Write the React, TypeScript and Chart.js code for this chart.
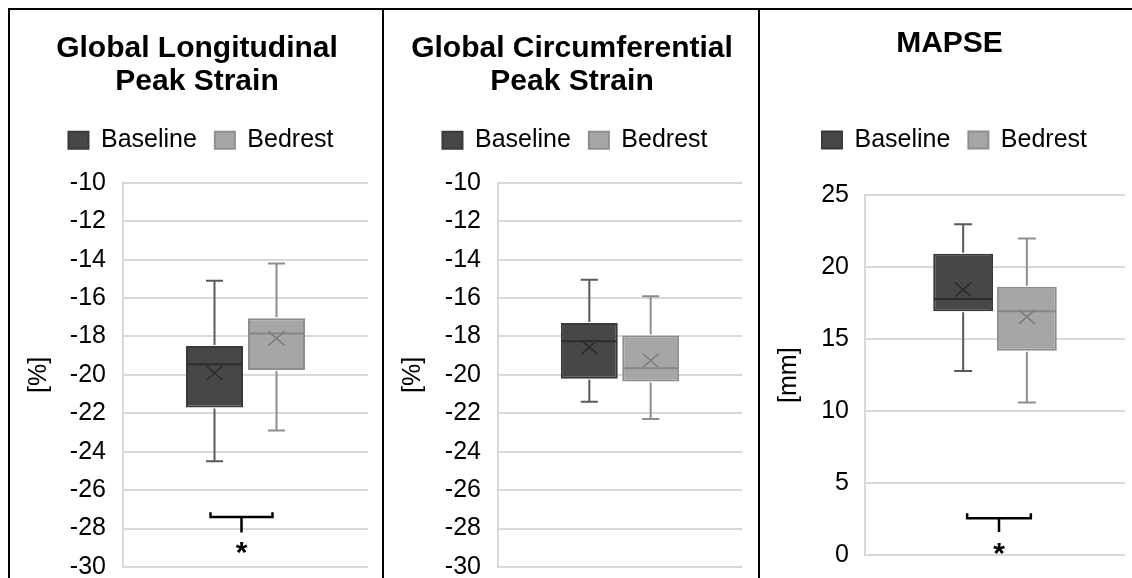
import React, { useEffect, useRef } from 'react';
import { Chart, registerables } from 'chart.js';

Chart.register(...registerables);

// ---------- data ----------
const CATEGORIES = [''];
const SERIES_NAMES = ['Baseline', 'Bedrest'];

// Global Longitudinal Peak Strain [%]
const GLS_MIN = [-24.5, -22.9];
const GLS_Q1 = [-21.7, -19.75];
const GLS_MEDIAN = [-19.45, -17.85];
const GLS_Q3 = [-18.5, -17.05];
const GLS_MAX = [-15.1, -14.2];
const GLS_MEAN = [-19.9, -18.1];
const GLS_AXIS = [-30, -10, 2]; // min, max, step
const GLS_BRACKET = [-27.15, -27.4, -28.2, -28.9]; // tips, bar, stem end, star

// Global Circumferential Peak Strain [%]
const GCS_MIN = [-21.4, -22.3];
const GCS_Q1 = [-20.2, -20.35];
const GCS_MEDIAN = [-18.25, -19.65];
const GCS_Q3 = [-17.3, -17.95];
const GCS_MAX = [-15.05, -15.9];
const GCS_MEAN = [-18.55, -19.25];
const GCS_AXIS = [-30, -10, 2];

// MAPSE [mm]
const MAPSE_MIN = [12.8, 10.6];
const MAPSE_Q1 = [16.95, 14.2];
const MAPSE_MEDIAN = [17.8, 16.95];
const MAPSE_Q3 = [20.95, 18.65];
const MAPSE_MAX = [23.0, 22.0];
const MAPSE_MEAN = [18.45, 16.55];
const MAPSE_AXIS = [0, 25, 5];
const MAPSE_BRACKET = [2.9, 2.55, 1.6, 0.55];

// ---------- styles ----------
const FONT = "'Liberation Sans', Arial, sans-serif";
const SERIES_STYLE = [
  { fill: '#474747', border: '#393939', whisker: '#5a5a5a', median: '#2c2c2c', mean: '#2c2c2c' },
  { fill: '#a6a6a6', border: '#8e8e8e', whisker: '#8e8e8e', median: '#868686', mean: '#7c7c7c' },
];

type PanelSpec = {
  title: string[];
  yTitle: string;
  min: number[]; q1: number[]; median: number[]; q3: number[]; max: number[]; mean: number[];
  axis: number[];
  bracket: number[] | null;
  bracketShift: number;
  width: number;
  titlePad: { top: number; bottom: number };
  spacer: number;
  pad: { left: number; right: number; bottom: number };
  yWidth: number;
  tickPad: number;
  catPct: number;
  barPct: number;
  titleShift: number;
  legendShift: number;
};

const PANELS: PanelSpec[] = [
  {
    title: ['Global Longitudinal', 'Peak Strain'], yTitle: '[%]',
    min: GLS_MIN, q1: GLS_Q1, median: GLS_MEDIAN, q3: GLS_Q3, max: GLS_MAX, mean: GLS_MEAN,
    axis: GLS_AXIS, bracket: GLS_BRACKET, bracketShift: -4, width: 372,
    titlePad: { top: 23, bottom: 12 }, spacer: 19,
    pad: { left: 0, right: 14, bottom: 43 }, yWidth: 113, tickPad: 17,
    catPct: 0.506, barPct: 0.92, titleShift: 8, legendShift: 12,
  },
  {
    title: ['Global Circumferential', 'Peak Strain'], yTitle: '[%]',
    min: GCS_MIN, q1: GCS_Q1, median: GCS_MEDIAN, q3: GCS_Q3, max: GCS_MAX, mean: GCS_MEAN,
    axis: GCS_AXIS, bracket: null, bracketShift: 0, width: 374,
    titlePad: { top: 23, bottom: 12 }, spacer: 19,
    pad: { left: 0, right: 16, bottom: 43 }, yWidth: 114, tickPad: 17,
    catPct: 0.503, barPct: 0.927, titleShift: 9, legendShift: 12,
  },
  {
    title: ['MAPSE'], yTitle: '[mm]',
    min: MAPSE_MIN, q1: MAPSE_Q1, median: MAPSE_MEDIAN, q3: MAPSE_Q3, max: MAPSE_MAX, mean: MAPSE_MEAN,
    axis: MAPSE_AXIS, bracket: MAPSE_BRACKET, bracketShift: 4, width: 372,
    titlePad: { top: 18, bottom: 49 }, spacer: 32,
    pad: { left: 0, right: 7, bottom: 55 }, yWidth: 105, tickPad: 16,
    catPct: 0.49, barPct: 0.94, titleShift: 7, legendShift: 12,
  },
];

function boxExtras(p: PanelSpec) {
  return {
    id: 'boxExtras',
    afterLayout(chart: any) {
      const t = chart.titleBlock;
      if (t) { t.left += p.titleShift; t.right += p.titleShift; }
      const l = chart.legend;
      if (l) { l.left += p.legendShift; l.right += p.legendShift; }
    },
    afterDatasetsDraw(chart: any) {
      const ctx = chart.ctx as CanvasRenderingContext2D;
      const ys = chart.scales.y;
      const px = (v: number) => ys.getPixelForValue(v);
      ctx.save();
      ctx.lineCap = 'butt';
      const centers: number[] = [];
      SERIES_NAMES.forEach((_, i) => {
        const bar = chart.getDatasetMeta(i).data[0] as any;
        const x = bar.x;
        const w = bar.width;
        centers.push(x);
        const st = SERIES_STYLE[i];
        const yMax = px(p.max[i]);
        const yMin = px(p.min[i]);
        const yQ1 = px(p.q1[i]);
        const yQ3 = px(p.q3[i]);
        const yMed = px(p.median[i]);
        const yMean = px(p.mean[i]);
        const cap = w * 0.15;
        ctx.strokeStyle = st.whisker;
        ctx.lineWidth = 2;
        ctx.beginPath();
        ctx.moveTo(x, yQ3 - 1); ctx.lineTo(x, yMax);
        ctx.moveTo(x, yQ1 + 1); ctx.lineTo(x, yMin);
        ctx.moveTo(x - cap, yMax); ctx.lineTo(x + cap, yMax);
        ctx.moveTo(x - cap, yMin); ctx.lineTo(x + cap, yMin);
        ctx.stroke();
        // median
        ctx.strokeStyle = st.median;
        ctx.lineWidth = 2;
        ctx.beginPath();
        ctx.moveTo(x - w / 2 + 1, yMed); ctx.lineTo(x + w / 2 - 1, yMed);
        ctx.stroke();
        // mean marker (x)
        ctx.strokeStyle = st.mean;
        ctx.lineWidth = 1.6;
        const sx = 8, sy = 7;
        ctx.beginPath();
        ctx.moveTo(x - sx, yMean - sy); ctx.lineTo(x + sx, yMean + sy);
        ctx.moveTo(x + sx, yMean - sy); ctx.lineTo(x - sx, yMean + sy);
        ctx.stroke();
      });
      if (p.bracket) {
        const [tip, barV, stemEnd, starV] = p.bracket;
        const xl = centers[0] + p.bracketShift;
        const xr = centers[1] + p.bracketShift;
        const xm = (xl + xr) / 2;
        ctx.strokeStyle = '#000';
        ctx.lineWidth = 2.5;
        ctx.beginPath();
        ctx.moveTo(xl, px(tip));
        ctx.lineTo(xl, px(barV));
        ctx.lineTo(xr, px(barV));
        ctx.lineTo(xr, px(tip));
        ctx.moveTo(xm, px(barV));
        ctx.lineTo(xm, px(stemEnd));
        ctx.stroke();
        ctx.fillStyle = '#000';
        ctx.font = `bold 30px ${FONT}`;
        ctx.textAlign = 'center';
        ctx.textBaseline = 'alphabetic';
        ctx.fillText('*', xm, px(starV) + 16);
      }
      ctx.restore();
    },
  };
}

function makeConfig(p: PanelSpec): any {
  const [yMin, yMax, yStep] = p.axis;
  return {
    type: 'bar',
    data: {
      labels: CATEGORIES,
      datasets: SERIES_NAMES.map((name, i) => ({
        label: name,
        data: CATEGORIES.map(() => [p.q1[i], p.q3[i]]),
        backgroundColor: SERIES_STYLE[i].fill,
        borderColor: SERIES_STYLE[i].border,
        borderWidth: 2,
        borderSkipped: false,
        categoryPercentage: p.catPct,
        barPercentage: p.barPct,
      })),
    },
    options: {
      responsive: false,
      maintainAspectRatio: false,
      animation: false,
      devicePixelRatio: 1,
      layout: { padding: { top: 0, left: p.pad.left, right: p.pad.right, bottom: p.pad.bottom } },
      plugins: {
        title: {
          display: true,
          text: p.title,
          color: '#000',
          font: { family: FONT, size: 30, weight: 'bold', lineHeight: 1.08 },
          padding: p.titlePad,
        },
        subtitle: {
          display: true,
          text: '',
          weight: 500,
          font: { family: FONT, size: 1, lineHeight: 1 },
          padding: { top: p.spacer, bottom: 0 },
        },
        legend: {
          display: true,
          position: 'top',
          labels: {
            boxWidth: 20,
            boxHeight: 17,
            padding: 18,
            color: '#000',
            font: { family: FONT, size: 25 },
          },
        },
        tooltip: { enabled: false },
      },
      scales: {
        x: { display: false },
        y: {
          min: yMin,
          max: yMax,
          afterFit: (scale: any) => { scale.width = p.yWidth; },
          ticks: {
            stepSize: yStep,
            color: '#000',
            padding: p.tickPad,
            font: { family: FONT, size: 25 },
          },
          grid: { color: '#d9d9d9', lineWidth: 2, drawTicks: false },
          border: { color: '#d9d9d9', width: 2 },
          title: {
            display: true,
            text: p.yTitle,
            color: '#000',
            font: { family: FONT, size: 25 },
            padding: { top: 14, bottom: 0 },
          },
        },
      },
    },
    plugins: [boxExtras(p)],
  };
}

function Panel({ spec }: { spec: PanelSpec }) {
  const ref = useRef<HTMLCanvasElement>(null);
  useEffect(() => {
    const chart = new Chart(ref.current as HTMLCanvasElement, makeConfig(spec));
    return () => chart.destroy();
  }, [spec]);
  return (
    <div style={{ width: spec.width, height: 568, borderLeft: '2px solid #000', overflow: 'hidden', flex: 'none', background: '#fff' }}>
      <canvas ref={ref} width={spec.width} height={600} style={{ display: 'block', width: spec.width, height: 600 }} />
    </div>
  );
}

export default function App() {
  return (
    <div
      style={{
        position: 'fixed',
        top: 8,
        left: 8,
        display: 'flex',
        borderTop: '2px solid #000',
        height: 568,
        overflow: 'hidden',
        background: '#fff',
      }}
    >
      {PANELS.map((p, i) => (
        <Panel key={i} spec={p} />
      ))}
    </div>
  );
}
